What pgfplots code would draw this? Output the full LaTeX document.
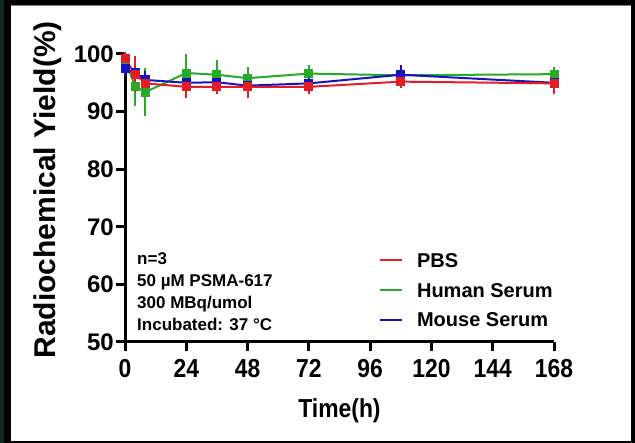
\documentclass[border=0pt]{standalone}
\usepackage{fontspec}
\setmainfont{Liberation Sans}
\newfontfamily\narrowfont{Liberation Sans}[FakeStretch=0.88]
\usepackage{pgfplots}
\pgfplotsset{compat=1.18}
\definecolor{pbs}{RGB}{228,28,38}
\definecolor{hs}{RGB}{40,170,40}
\definecolor{ms}{RGB}{20,20,190}
\definecolor{edge}{RGB}{14,42,30}

\pgfplotstableread{
t y e
0 99.2 0.3
4 96.5 2.3
8 94.9 0.5
24 94.3 1.0
36 94.3 0.3
48 94.3 1.1
72 94.3 0.3
108 95.2 0.3
168 94.9 0.9
}\pbsdata
\pgfplotstableread{
t y e
0 98.9 0.4
4 94.4 2.6
8 93.4 3.3
24 96.7 2.5
36 96.4 1.7
48 95.8 1.0
72 96.6 0.6
108 96.3 0.2
168 96.5 0.3
}\humandata
\pgfplotstableread{
t y e
0 97.4 0.5
4 96.8 0.6
8 95.5 0.6
24 95.0 0.3
36 95.1 0.4
48 94.5 0.3
72 94.9 0.4
108 96.4 0.9
168 95.0 0.4
}\mousedata

\pgfplotsset{
  series/.style={color=#1, line width=2pt, mark=square*, mark size=3.5pt,
    mark options={solid},
    error bars/y dir=both, error bars/y explicit,
    error bars/error bar style={line width=2pt, color=#1},
    error bars/error mark options={mark size=5pt, line width=2pt, color=#1}},
}

\begin{document}
\begin{tikzpicture}
\fill[black] (0pt,0pt) rectangle (635pt,443pt);
\fill[edge] (0pt,0pt) rectangle (4pt,443pt);
\fill[white] (11pt,2pt) rectangle (631pt,437pt);
\draw[gray, line width=1pt] (11pt,437pt) -- (631pt,437pt);
\begin{axis}[
  at={(125pt,101pt)}, anchor=south west,
  scale only axis, width=429pt, height=288pt,
  xmin=0, xmax=168, ymin=50, ymax=100,
  axis lines=left,
  axis line style={line width=3pt, -},
  xtick={0,24,...,168}, ytick={50,60,...,100},
  tick style={line width=3pt, black},
  major tick length=9pt, tick align=outside,
  clip=false,
  /pgf/number format/assume math mode=true,
  yticklabel style={font=\bfseries\fontsize{24}{24}\selectfont, inner sep=2pt},
  xticklabel style={font=\narrowfont\bfseries\fontsize{26}{26}\selectfont, inner sep=2pt, yshift=-6pt},
  xlabel={Time(h)},
  ylabel={Radiochemical Yield(\%)},
  xlabel style={at={(rel axis cs:0.5,0)}, anchor=center, yshift=-69pt,
    font=\narrowfont\bfseries\fontsize{26}{26}\selectfont},
  ylabel style={at={(rel axis cs:0,0.528)}, anchor=center, yshift=77pt,
    font=\bfseries\fontsize{30}{30}\selectfont},
]
\addplot[series=hs] table[x=t, y=y, y error=e] {\humandata};
\addplot[series=ms] table[x=t, y=y, y error=e] {\mousedata};
\addplot[series=pbs] table[x=t, y=y, y error=e] {\pbsdata};
% legend
\begin{scope}[every node/.style={anchor=west, inner sep=0pt,
    font=\bfseries\fontsize{20}{20}\selectfont}]
  \draw[pbs, line width=1.5pt] (axis cs:99.8,64.2) -- (axis cs:108.4,64.2);
  \node at (axis cs:114.3,64.2) {PBS};
  \draw[hs, line width=1.5pt] (axis cs:99.8,59.0) -- (axis cs:108.4,59.0);
  \node at (axis cs:114.3,59.0) {Human Serum};
  \draw[ms, line width=1.5pt] (axis cs:99.8,53.8) -- (axis cs:108.4,53.8);
  \node at (axis cs:114.3,53.8) {Mouse Serum};
\end{scope}
\node[anchor=north west, align=left, inner sep=0pt,
  font=\bfseries\fontsize{17}{22}\selectfont] at (axis cs:4.7,65.6)
  {n=3\\50 µM PSMA-617\\300 MBq/umol\\Incubated: 37 °C};
\end{axis}
\end{tikzpicture}
\end{document}
